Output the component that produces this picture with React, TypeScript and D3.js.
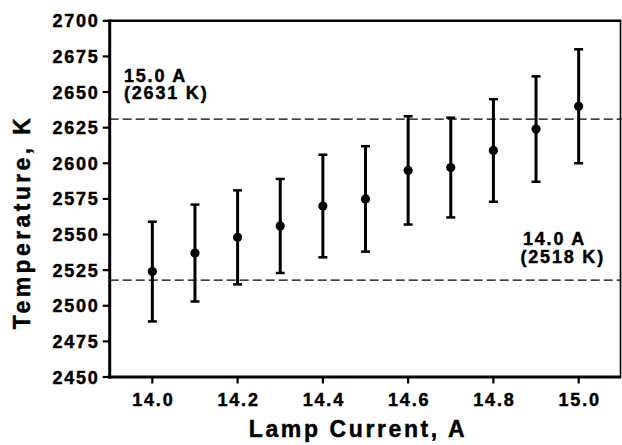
import React from "react";
import * as d3 from "d3";

const currents = [14.0, 14.1, 14.2, 14.3, 14.4, 14.5, 14.6, 14.7, 14.8, 14.9, 15.0];
const temps = [2524, 2537, 2548, 2556, 2570, 2575, 2595, 2597, 2609, 2624, 2640];
const errs = [35, 34, 33, 33, 36, 37, 38, 35, 36, 37, 40];
const xTicks = [14.0, 14.2, 14.4, 14.6, 14.8, 15.0];
const yTicks = [2450, 2475, 2500, 2525, 2550, 2575, 2600, 2625, 2650, 2675, 2700];
const refValues = [2631, 2518];
const refLabels = [
  ["15.0 A", "(2631 K)"],
  ["14.0 A", "(2518 K)"],
];

const W = 622;
const H = 445;
const FONT = "'Liberation Sans', Arial, Helvetica, sans-serif";

export default function App() {
  const x = d3.scaleLinear().domain([13.9, 15.1]).range([109.7, 621.3]);
  const y = d3.scaleLinear().domain([2450, 2700]).range([377, 20.8]);
  const [xl, xr] = x.range();
  const [yb, yt] = y.range();
  const heavy = { stroke: "#000", strokeWidth: 0.45 };

  return (
    <svg
      width={W}
      height={H}
      style={{ position: "absolute", left: 0, top: 0, background: "#fff" }}
      fontFamily={FONT}
    >
      <rect x={0} y={0} width={W} height={H} fill="#fff" />
      {/* reference dashed lines */}
      {refValues.map((v, i) => (
        <line
          key={"ref" + i}
          x1={xl}
          x2={xr}
          y1={y(v)}
          y2={y(v)}
          stroke="#000"
          strokeWidth={1.1}
          strokeDasharray="9 4"
        />
      ))}
      {/* labels */}
      <g fontSize={18} fontWeight="bold" letterSpacing={1.8} {...heavy}>
        <text x={124} y={81.7}>
          <tspan x={124} y={81.7}>{refLabels[0][0]}</tspan>
          <tspan x={124} y={98.5}>{refLabels[0][1]}</tspan>
        </text>
        <text x={523} y={245}>
          <tspan x={523} y={245}>{refLabels[1][0]}</tspan>
          <tspan x={520.5} y={262.7}>{refLabels[1][1]}</tspan>
        </text>
      </g>
      {/* frame */}
      <line x1={xl} x2={xr} y1={yt} y2={yt} stroke="#000" strokeWidth={2.6} />
      <line x1={xr - 0.8} x2={xr - 0.8} y1={yt} y2={yb} stroke="#000" strokeWidth={1.6} />
      <line x1={xl} x2={xl} y1={yt - 1.3} y2={yb + 1.5} stroke="#000" strokeWidth={3} />
      <line x1={xl - 1.5} x2={xr} y1={yb} y2={yb} stroke="#000" strokeWidth={3} />
      {/* y ticks */}
      {yTicks.map((t) => (
        <g key={"yt" + t}>
          <line x1={xl - 7} x2={xl} y1={y(t)} y2={y(t)} stroke="#000" strokeWidth={2.2} />
          <text
            x={xl - 10}
            y={y(t) + 6.5}
            textAnchor="end"
            fontSize={18}
            fontWeight="bold"
            letterSpacing={1.8}
            {...heavy}
          >
            {t}
          </text>
        </g>
      ))}
      {/* x ticks */}
      {xTicks.map((t) => (
        <g key={"xt" + t}>
          <line x1={x(t)} x2={x(t)} y1={yb} y2={yb + 6.5} stroke="#000" strokeWidth={2.2} />
          <text
            x={x(t) + 1}
            y={406}
            textAnchor="middle"
            fontSize={18}
            fontWeight="bold"
            letterSpacing={1.8}
            {...heavy}
          >
            {t.toFixed(1)}
          </text>
        </g>
      ))}
      {/* error bars and points */}
      {currents.map((c, i) => {
        const cx = x(c);
        const top = y(temps[i] + errs[i]);
        const bot = y(temps[i] - errs[i]);
        return (
          <g key={"pt" + i}>
            <line x1={cx} x2={cx} y1={top} y2={bot} stroke="#000" strokeWidth={3} />
            <line x1={cx - 4.5} x2={cx + 4.5} y1={top} y2={top} stroke="#000" strokeWidth={2.5} />
            <line x1={cx - 4.5} x2={cx + 4.5} y1={bot} y2={bot} stroke="#000" strokeWidth={2.5} />
            <circle cx={cx} cy={y(temps[i])} r={4.6} fill="#000" />
          </g>
        );
      })}
      {/* axis titles */}
      <text
        x={358}
        y={437.3}
        textAnchor="middle"
        fontSize={23}
        fontWeight="bold"
        letterSpacing={2.6}
        {...heavy}
      >
        Lamp Current, A
      </text>
      <text
        transform="translate(30,222) rotate(-90)"
        textAnchor="middle"
        fontSize={23}
        fontWeight="bold"
        letterSpacing={3.4}
        {...heavy}
      >
        Temperature, K
      </text>
    </svg>
  );
}
